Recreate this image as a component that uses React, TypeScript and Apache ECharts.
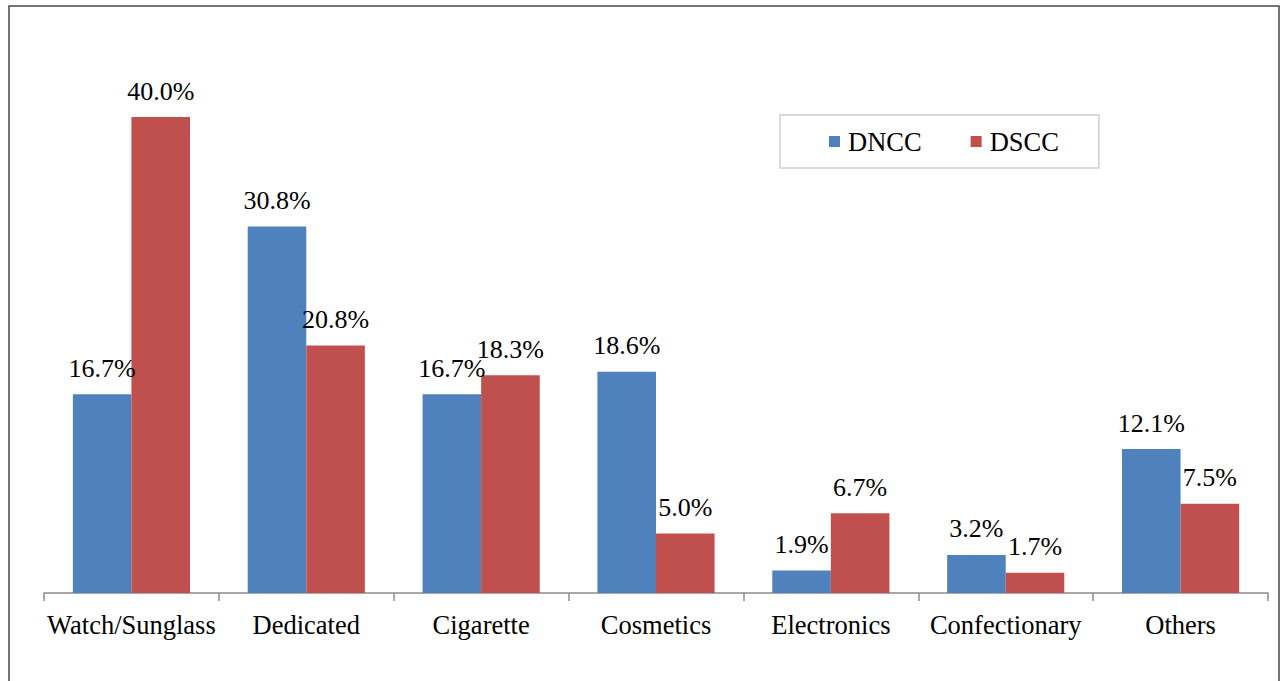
import React, { useEffect, useRef } from "react";
import * as echarts from "echarts";

// Share of vendors by product category in each city corporation (%)
const categories = [
  "Watch/Sunglass",
  "Dedicated",
  "Cigarette",
  "Cosmetics",
  "Electronics",
  "Confectionary",
  "Others",
];
const dnccValues = [16.7, 30.8, 16.7, 18.6, 1.9, 3.2, 12.1];
const dsccValues = [40.0, 20.8, 18.3, 5.0, 6.7, 1.7, 7.5];
const seriesNames = ["DNCC", "DSCC"];

const FONT = "Liberation Serif";

export default function App() {
  const ref = useRef<HTMLDivElement>(null);

  useEffect(() => {
    if (!ref.current) return;
    const chart = echarts.init(ref.current, null, { renderer: "svg" });

    const label = {
      show: true,
      position: "top" as const,
      distance: 13,
      fontFamily: FONT,
      fontSize: 26,
      color: "#000",
      formatter: (p: any) => `${Number(p.value).toFixed(1)}%`,
    };

    chart.setOption({
      animation: false,
      backgroundColor: "#fff",
      textStyle: { fontFamily: FONT },
      grid: { left: 44, right: 14, top: 57.5, bottom: 88, containLabel: false },
      legend: {
        data: seriesNames,
        left: 780,
        top: 115,
        orient: "horizontal",
        padding: [13, 40, 13, 49],
        itemGap: 49,
        itemWidth: 11,
        itemHeight: 11,
        icon: "rect",
        borderColor: "#cfcfcf",
        borderWidth: 1.5,
        textStyle: { fontFamily: FONT, fontSize: 26.5, color: "#000", lineHeight: 26, padding: [0, 0, 0, 3] },
      },
      xAxis: {
        type: "category",
        data: categories,
        axisLine: { lineStyle: { color: "#8c8c8c", width: 1.5 } },
        axisTick: { show: true, length: 8, lineStyle: { color: "#8c8c8c", width: 1.5 } },
        axisLabel: { fontFamily: FONT, fontSize: 26.5, color: "#000", margin: 18, interval: 0 },
      },
      yAxis: {
        type: "value",
        min: 0,
        max: 45,
        show: false,
        splitLine: { show: false },
      },
      graphic: [
        {
          type: "rect",
          shape: { x: 9, y: 6, width: 1270, height: 720 },
          style: { fill: "none", stroke: "#4a4a4a", lineWidth: 1.5 },
          silent: true,
          z: 100,
        },
      ],
      series: [
        {
          name: seriesNames[0],
          type: "bar",
          data: dnccValues,
          itemStyle: { color: "#4F81BD" },
          barGap: "0%",
          barCategoryGap: "33%",
          label,
        },
        {
          name: seriesNames[1],
          type: "bar",
          data: dsccValues,
          itemStyle: { color: "#C0504D" },
          barGap: "0%",
          barCategoryGap: "33%",
          label,
        },
      ],
    });

    return () => chart.dispose();
  }, []);

  return (
    <div
      ref={ref}
      style={{ position: "fixed", left: 0, top: 0, width: 1282, height: 681 }}
    />
  );
}
